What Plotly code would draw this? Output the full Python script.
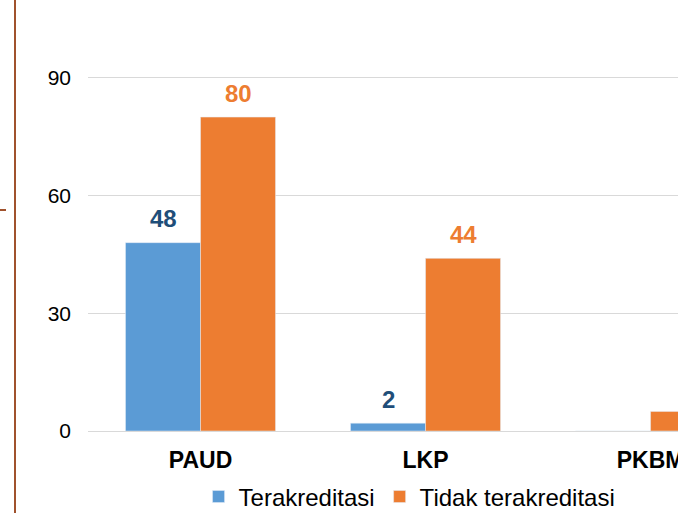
import plotly.graph_objects as go

categories = ["PAUD", "LKP", "PKBM"]
terakreditasi = [48, 2, 0]
tidak_terakreditasi = [80, 44, 5]
y_ticks = [0, 30, 60, 90]

FONT = "Liberation Sans, Arial, sans-serif"
BLUE = "#5B9BD5"
ORANGE = "#ED7D31"
BLUE_LABEL = "#1F4E79"
X_RANGE = [-0.5, 2.122]

fig = go.Figure()
fig.add_trace(go.Bar(name="Terakreditasi", x=categories, y=terakreditasi, marker_color=BLUE))
fig.add_trace(go.Bar(name="Tidak terakreditasi", x=categories, y=tidak_terakreditasi, marker_color=ORANGE))

annotations = []
for series, offset, color in ((terakreditasi, -1, BLUE_LABEL), (tidak_terakreditasi, 1, ORANGE)):
    for i, (cat, v) in enumerate(zip(categories, series)):
        # label sits at the centre of its bar (1/6 of a category to either side)
        if v > 0 and i + offset / 6 < X_RANGE[1]:
            annotations.append(dict(
                x=cat, y=v, xref="x", yref="y", text=str(v), showarrow=False,
                xshift=offset * 37.5, yshift=24, yanchor="middle", xanchor="center",
                font=dict(family=FONT, size=24, color=color, weight="bold"),
            ))

fig.update_layout(
    width=678, height=513,
    margin=dict(l=88, r=0, t=19, b=82, autoexpand=False),
    paper_bgcolor="white", plot_bgcolor="white",
    barmode="group", bargap=1/3, bargroupgap=0,
    font=dict(family=FONT, color="#000000"),
    showlegend=True,
    legend=dict(orientation="h", x=0.545, xanchor="center", y=-0.16, yanchor="middle",
                font=dict(family=FONT, size=24, color="#000000"),
                itemwidth=30, tracegroupgap=0),
    xaxis=dict(range=X_RANGE, showgrid=False, showline=False, ticks="",
               tickfont=dict(family=FONT, size=23, color="#000000", weight="bold"),
               ticklabelstandoff=13),
    yaxis=dict(range=[0, 105], tickvals=y_ticks, showgrid=True, gridcolor="#D9D9D9",
               gridwidth=1, zeroline=True, zerolinecolor="#D9D9D9", zerolinewidth=1,
               showline=False, ticks="",
               tickfont=dict(family=FONT, size=21, color="#000000"),
               ticklabelstandoff=16),
    annotations=annotations,
    shapes=[
        dict(type="line", xref="paper", yref="paper",
             x0=(15 - 88) / 590, x1=(15 - 88) / 590, y0=(431 - 0) / 412, y1=(431 - 513) / 412,
             line=dict(color="#A0522D", width=2)),
        dict(type="line", xref="paper", yref="paper",
             x0=(0 - 88) / 590, x1=(6 - 88) / 590, y0=(431 - 210) / 412, y1=(431 - 210) / 412,
             line=dict(color="#A0522D", width=2)),
    ],
)

fig.write_html("out.html", config={"displayModeBar": False},
               post_script="document.body.style.margin='0';document.body.style.overflow='hidden';")
